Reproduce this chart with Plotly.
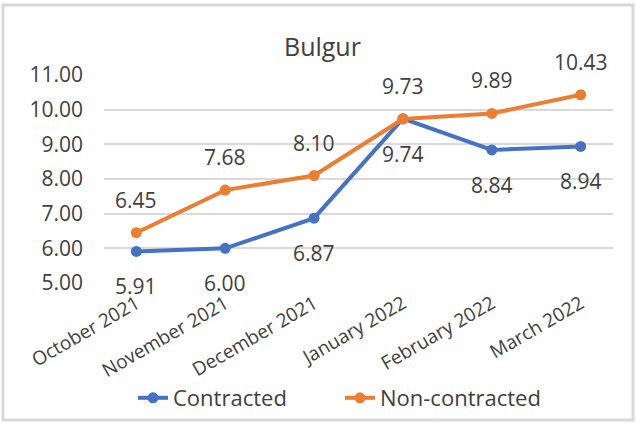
import plotly.graph_objects as go

categories = ["October 2021", "November 2021", "December 2021", "January 2022", "February 2022", "March 2022"]
contracted = [5.91, 6.00, 6.87, 9.74, 8.84, 8.94]
non_contracted = [6.45, 7.68, 8.10, 9.73, 9.89, 10.43]
y_ticks = [5, 6, 7, 8, 9, 10, 11]

BLUE = "#4472C4"
ORANGE = "#ED7D31"
TXT = "#404040"
FONT = "Open Sans"

W, H = 636, 424
L, R, T, B = 104, 23, 75, 141
pw, ph = W - L - R, H - T - B

def px_to_paper_x(px):
    return (px - L) / pw

def px_to_paper_y(py):
    return (H - B - py) / ph

fig = go.Figure()
fig.add_trace(go.Scatter(x=categories, y=contracted, name="Contracted", mode="lines+markers",
                         line=dict(color=BLUE, width=4), marker=dict(size=11, color=BLUE)))
fig.add_trace(go.Scatter(x=categories, y=non_contracted, name="Non-contracted", mode="lines+markers",
                         line=dict(color=ORANGE, width=4), marker=dict(size=11, color=ORANGE)))

annotations = []
for c, v in zip(categories, contracted):
    annotations.append(dict(x=c, y=v, text=f"{v:.2f}", showarrow=False, yshift=-35,
                            font=dict(family=FONT, size=21, color=TXT)))
for c, v in zip(categories, non_contracted):
    annotations.append(dict(x=c, y=v, text=f"{v:.2f}", showarrow=False, yshift=33,
                            font=dict(family=FONT, size=21, color=TXT)))

fig.update_layout(
    width=W, height=H,
    margin=dict(l=L, r=R, t=T, b=B, autoexpand=False),
    paper_bgcolor="white", plot_bgcolor="white",
    font=dict(family=FONT, size=20, color=TXT),
    title=dict(text="Bulgur", x=0.507, xanchor="center", y=1 - 47 / H, yanchor="middle",
               font=dict(family=FONT, size=25, color=TXT)),
    showlegend=True,
    legend=dict(orientation="h", x=px_to_paper_x(133), xanchor="left",
                y=px_to_paper_y(398), yanchor="middle",
                entrywidth=162, entrywidthmode="pixels",
                font=dict(family=FONT, size=22, color=TXT),
                bgcolor="rgba(0,0,0,0)"),
    annotations=annotations,
    shapes=[dict(type="rect", xref="paper", yref="paper",
                 x0=px_to_paper_x(3), x1=px_to_paper_x(633),
                 y0=px_to_paper_y(420), y1=px_to_paper_y(5),
                 line=dict(color="#D9D9D9", width=3), layer="below")],
)
fig.update_xaxes(type="category", showgrid=False, showline=False, zeroline=False,
                 tickangle=-30, ticklabelstandoff=5, automargin=False,
                 tickfont=dict(family=FONT, size=19, color=TXT))
fig.update_yaxes(range=[5, 11], tickvals=y_ticks, tickformat=".2f", showgrid=True,
                 gridcolor="#D9D9D9", gridwidth=1.5, zeroline=False, showline=False,
                 ticklabelstandoff=20, automargin=False,
                 tickfont=dict(family=FONT, size=21, color=TXT))

fig.write_html("out.html", config={"displayModeBar": False},
               post_script="document.body.style.margin='0';")
